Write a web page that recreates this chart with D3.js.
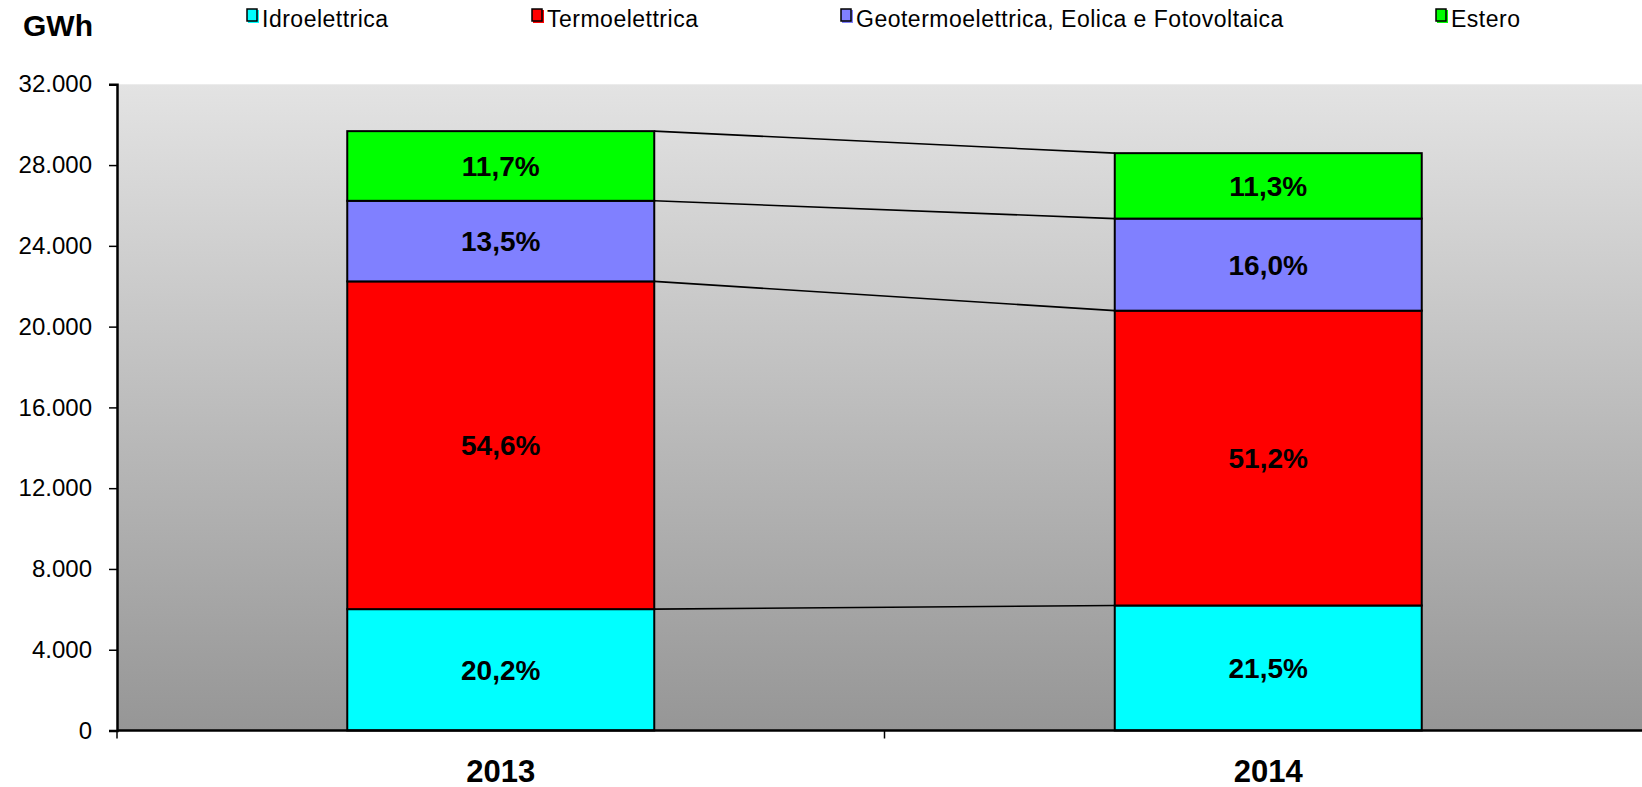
<!DOCTYPE html>
<html>
<head>
<meta charset="utf-8">
<script src="https://cdn.jsdelivr.net/npm/d3@7"></script>
<style>
	body { margin: 0; background: #fff; }
	svg { display: block; font-family: "Liberation Sans", Arial, sans-serif; }
</style>
</head>
<body>
<div id="chart"></div>
<script>
// Data

var years = ['2013', '2014'];
var sources = ['Idroelettrica', 'Termoelettrica', 'Geotermoelettrica, Eolica e Fotovoltaica', 'Estero'];
var colors = ['#00ffff', '#ff0000', '#8080ff', '#00ff00'];

// GWh per year, one array per source
var idro = [6010, 6190];
var termo = [16230, 14600];
var geo = [3990, 4560];
var estero = [3450, 3240];

// percentage labels as printed in the bars
var idroPct = ['20,2%', '21,5%'];
var termoPct = ['54,6%', '51,2%'];
var geoPct = ['13,5%', '16,0%'];
var esteroPct = ['11,7%', '11,3%'];

var yTicks = [0, 4000, 8000, 12000, 16000, 20000, 24000, 28000, 32000];

// Config

var width = 1642, height = 787;
var plot = { left: 117, right: 1652, top: 84.3, bottom: 730.5 };

// Setup

var series = [idro, termo, geo, estero];
var pcts = [idroPct, termoPct, geoPct, esteroPct];

var rows = years.map((year, i) => {
	let row = { year };
	sources.forEach((s, k) => row[s] = series[k][i]);
	return row;
});
var stacked = d3.stack().keys(sources)(rows);

var it = d3.formatLocale({ decimal: ',', thousands: '.', grouping: [3], currency: ['€', ''] });
var fmt = it.format(',d');

var x = d3.scaleBand().domain(years).range([plot.left, plot.right])
	.paddingInner(0.6).paddingOuter(0.3);
var y = d3.scaleLinear().domain([0, 32000]).range([plot.bottom, plot.top]);

var svg = d3.select('#chart').append('svg')
	.attr('width', width)
	.attr('height', height);

var grad = svg.append('defs').append('linearGradient')
	.attr('id', 'bg').attr('x1', 0).attr('y1', 0).attr('x2', 0).attr('y2', 1);
grad.append('stop').attr('offset', '0%').attr('stop-color', '#e3e3e3');
grad.append('stop').attr('offset', '100%').attr('stop-color', '#969696');

svg.append('rect')
	.attr('x', plot.left).attr('y', plot.top)
	.attr('width', plot.right - plot.left).attr('height', plot.bottom - plot.top)
	.attr('fill', 'url(#bg)');

// connector lines between the stacks
stacked.forEach(layer => {
	svg.append('line')
		.attr('x1', x(years[0]) + x.bandwidth())
		.attr('y1', y(layer[0][1]))
		.attr('x2', x(years[1]))
		.attr('y2', y(layer[1][1]))
		.attr('stroke', '#000')
		.attr('stroke-width', 1.6);
});

// bars
var layers = svg.selectAll('.layer')
	.data(stacked)
	.enter().append('g')
		.attr('class', 'layer')
		.attr('fill', (d, i) => colors[i]);

layers.selectAll('rect')
	.data(d => d)
	.enter().append('rect')
		.attr('x', d => x(d.data.year))
		.attr('y', d => y(d[1]))
		.attr('width', x.bandwidth())
		.attr('height', d => y(d[0]) - y(d[1]))
		.attr('stroke', '#000')
		.attr('stroke-width', 2);

layers.selectAll('text')
	.data((d, k) => d.map((v, i) => ({ v, label: pcts[k][i] })))
	.enter().append('text')
		.attr('x', d => x(d.v.data.year) + x.bandwidth() / 2)
		.attr('y', d => (y(d.v[0]) + y(d.v[1])) / 2)
		.attr('dy', '0.36em')
		.attr('text-anchor', 'middle')
		.attr('fill', '#000')
		.style('font-size', '28px')
		.style('font-weight', 'bold')
		.text(d => d.label);

// axes
var yAxis = svg.append('g')
	.attr('transform', `translate(${plot.left},0)`)
	.call(d3.axisLeft(y).tickValues(yTicks).tickFormat(fmt).tickSize(8).tickPadding(17));
yAxis.selectAll('text').style('font-size', '24px').attr('fill', '#000');
yAxis.select('.domain').attr('stroke-width', 2.5);
yAxis.selectAll('.tick line').attr('stroke-width', 1.5);

var xAxis = svg.append('g')
	.attr('transform', `translate(0,${plot.bottom})`);
xAxis.append('line')
	.attr('x1', plot.left).attr('x2', plot.right)
	.attr('stroke', '#000').attr('stroke-width', 2.5);
xAxis.selectAll('.xtick')
	.data([plot.left, (x(years[0]) + x.bandwidth() + x(years[1])) / 2])
	.enter().append('line')
		.attr('x1', d => d).attr('x2', d => d)
		.attr('y1', 0).attr('y2', 8)
		.attr('stroke', '#000').attr('stroke-width', 1.5);
xAxis.selectAll('.xlabel')
	.data(years)
	.enter().append('text')
		.attr('x', d => x(d) + x.bandwidth() / 2)
		.attr('y', 51)
		.attr('text-anchor', 'middle')
		.style('font-size', '31px')
		.style('font-weight', 'bold')
		.text(d => d);

svg.append('text')
	.attr('x', 23).attr('y', 36)
	.style('font-size', '30px')
	.style('font-weight', 'bold')
	.text('GWh');

// legend
var legendX = [247, 532, 841, 1436];
var legend = svg.selectAll('.legend')
	.data(sources)
	.enter().append('g')
		.attr('class', 'legend')
		.attr('transform', (d, i) => `translate(${legendX[i]},9)`);
legend.append('rect')
	.attr('x', 1).attr('y', 1).attr('width', 11).attr('height', 13)
	.attr('fill', (d, i) => colors[i]);
legend.append('rect')
	.attr('x', 0).attr('y', 0).attr('width', 10).attr('height', 12)
	.attr('fill', (d, i) => colors[i])
	.attr('stroke', '#000').attr('stroke-width', 1.5);
legend.append('text')
	.attr('x', 15).attr('y', 18)
	.style('font-size', '23px')
	.style('letter-spacing', '0.5px')
	.text(d => d);
</script>
</body>
</html>
